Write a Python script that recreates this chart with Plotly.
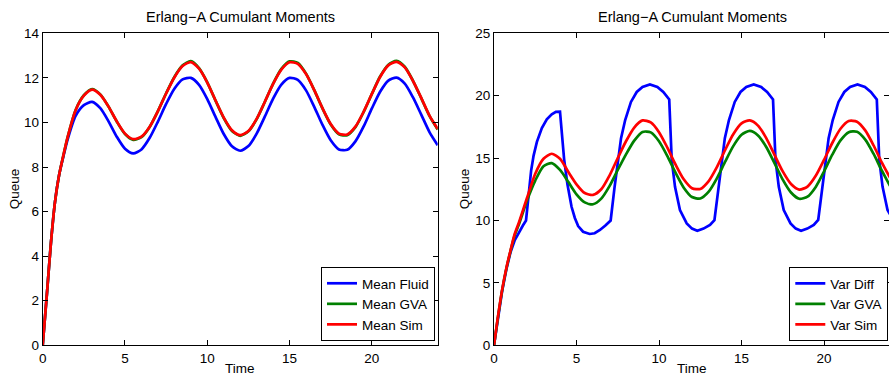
import plotly.graph_objects as go

# ---------------- data ----------------
mean_time = [0, 0.25, 0.5, 0.75, 1.0, 1.25, 1.5, 2.0, 2.5, 3.0, 3.5, 4.0, 4.5, 5.0, 5.5, 6.0,
             6.5, 7.0, 7.5, 8.0, 8.5, 9.0, 9.5, 10.0, 10.5, 11.0, 11.5, 12.0, 12.5, 13.0,
             13.5, 14.0, 14.5, 15.0, 15.5, 16.0, 16.5, 17.0, 17.5, 18.0, 18.5, 19.0, 19.5,
             20.0, 20.5, 21.0, 21.5, 22.0, 22.5, 23.0, 23.5, 24.0]
mean_fluid = [0, 2.25, 4.6, 6.45, 7.65, 8.45, 9.2, 10.3, 10.78, 10.92, 10.64, 10.05, 9.36, 8.82,
              8.61, 8.79, 9.31, 10.04, 10.83, 11.51, 11.93, 12.0, 11.69, 11.05, 10.25, 9.48,
              8.93, 8.73, 8.94, 9.5, 10.27, 11.07, 11.7, 12.0, 11.91, 11.44, 10.70, 9.89, 9.20,
              8.79, 8.77, 9.15, 9.82, 10.63, 11.38, 11.88, 12.01, 11.74, 11.12, 10.35, 9.57, 8.98]
mean_gva = [0, 2.25, 4.6, 6.45, 7.65, 8.5, 9.3, 10.56, 11.22, 11.5, 11.26, 10.71, 10.04, 9.48,
            9.22, 9.34, 9.8, 10.51, 11.31, 12.04, 12.56, 12.75, 12.44, 11.8, 10.98, 10.2, 9.62,
            9.4, 9.6, 10.15, 10.93, 11.74, 12.4, 12.74, 12.67, 12.19, 11.45, 10.63, 9.91, 9.47,
            9.43, 9.79, 10.47, 11.28, 12.06, 12.59, 12.76, 12.5, 11.87, 11.09, 10.29, 9.68]
mean_sim = [0, 2.25, 4.6, 6.45, 7.65, 8.5, 9.3, 10.55, 11.2, 11.47, 11.24, 10.71, 10.05, 9.5,
            9.25, 9.36, 9.81, 10.51, 11.30, 12.02, 12.53, 12.71, 12.41, 11.79, 10.99, 10.22,
            9.65, 9.43, 9.62, 10.16, 10.93, 11.73, 12.37, 12.70, 12.63, 12.17, 11.45, 10.64,
            9.93, 9.50, 9.46, 9.81, 10.48, 11.28, 12.04, 12.56, 12.72, 12.47, 11.86, 11.10,
            10.31, 9.71]

var_time = mean_time
var_gva = [0, 2.35, 4.45, 6.15, 7.55, 8.8, 9.65, 11.6, 13.2, 14.35, 14.6, 14.05, 13.1, 12.1,
           11.45, 11.3, 11.75, 12.75, 14.05, 15.3, 16.4, 17.1, 17.06, 16.35, 15.18, 13.83,
           12.63, 11.88, 11.76, 12.29, 13.36, 14.69, 15.96, 16.87, 17.18, 16.82, 15.89, 14.60,
           13.27, 12.24, 11.74, 11.91, 12.69, 13.92, 15.27, 16.42, 17.08, 17.11, 16.48, 15.35,
           14.01, 12.77]
var_sim = [0, 2.4, 4.5, 6.2, 7.6, 8.9, 9.8, 11.8, 13.75, 14.95, 15.35, 14.95, 13.9, 12.9, 12.2,
           12.05, 12.5, 13.6, 15.0, 16.35, 17.45, 18.02, 17.86, 17.08, 15.86, 14.49, 13.30,
           12.59, 12.53, 13.14, 14.26, 15.63, 16.91, 17.78, 18.02, 17.60, 16.60, 15.26, 13.93,
           12.92, 12.48, 12.72, 13.58, 14.85, 16.21, 17.35, 17.97, 17.92, 17.22, 16.03, 14.66,
           13.43]

var_diff_time = [0, 0.25, 0.5, 0.75, 1.0, 1.25, 1.5, 1.75, 1.94, 2.1, 2.25, 2.4, 2.6, 2.9, 3.2,
                 3.5, 3.75, 4.0, 4.12, 4.25, 4.45, 4.7, 4.9, 5.1, 5.4, 5.8, 6.1, 6.42, 6.75,
                 7.07, 7.3, 7.5, 7.7, 7.95, 8.3, 8.65, 9.0, 9.45, 9.9, 10.26, 10.62, 10.77,
                 10.97, 11.27, 11.68, 12.0, 12.32, 12.7, 13.09,
                 13.36, 13.59, 13.79, 13.99, 14.24, 14.59, 14.94, 15.29, 15.74, 16.19, 16.55,
                 16.91, 17.06, 17.26, 17.56, 17.97, 18.29, 18.61, 18.99, 19.38,
                 19.65, 19.88, 20.08, 20.28, 20.53, 20.88, 21.23, 21.58, 22.03, 22.48, 22.84,
                 23.2, 23.35, 23.55, 23.85, 24.0]
var_diff = [0, 2.35, 4.4, 6.1, 7.45, 8.4, 9.05, 9.6, 10.0, 12.2, 14.0, 15.2, 16.3, 17.4, 18.1,
            18.5, 18.7, 18.72, 16.8, 14.9, 12.9, 11.1, 10.2, 9.55, 9.1, 8.92, 8.98, 9.24, 9.6,
            10.0, 12.6, 14.7, 16.6, 18.05, 19.5, 20.3, 20.7, 20.9, 20.7, 20.3, 19.7, 14.85,
            12.7, 10.84, 9.77, 9.35, 9.18, 9.35, 9.64,
            10.02, 12.6, 14.7, 16.6, 18.05, 19.5, 20.3, 20.7, 20.9, 20.7, 20.3,
            19.7, 14.85, 12.7, 10.84, 9.77, 9.35, 9.18, 9.35, 9.64,
            10.05, 12.6, 14.7, 16.6, 18.05, 19.5, 20.3, 20.7, 20.9, 20.7, 20.3,
            19.7, 14.85, 12.7, 10.84, 10.5]

x_ticks = [0, 5, 10, 15, 20]
mean_y_ticks = [0, 2, 4, 6, 8, 10, 12, 14]
var_y_ticks = [0, 5, 10, 15, 20, 25]

BLUE, GREEN, RED = "#0000ff", "#008000", "#ff0000"
FONT = "Liberation Sans, Arial, Helvetica, sans-serif"
FS = 13.5
LW = 2.7

fig = go.Figure()

smooth = dict(shape="spline", smoothing=0.7)
fig.add_trace(go.Scatter(x=mean_time, y=mean_fluid, name="Mean Fluid", mode="lines",
                         line=dict(color=BLUE, width=LW, **smooth), xaxis="x", yaxis="y", legend="legend"))
fig.add_trace(go.Scatter(x=mean_time, y=mean_gva, name="Mean GVA", mode="lines",
                         line=dict(color=GREEN, width=LW, **smooth), xaxis="x", yaxis="y", legend="legend"))
fig.add_trace(go.Scatter(x=mean_time, y=mean_sim, name="Mean Sim", mode="lines",
                         line=dict(color=RED, width=LW, **smooth), xaxis="x", yaxis="y", legend="legend"))

fig.add_trace(go.Scatter(x=var_diff_time, y=var_diff, name="Var Diff", mode="lines",
                         line=dict(color=BLUE, width=LW), xaxis="x2", yaxis="y2", legend="legend2"))
fig.add_trace(go.Scatter(x=var_time, y=var_gva, name="Var GVA", mode="lines",
                         line=dict(color=GREEN, width=LW, **smooth), xaxis="x2", yaxis="y2", legend="legend2"))
fig.add_trace(go.Scatter(x=var_time, y=var_sim, name="Var Sim", mode="lines",
                         line=dict(color=RED, width=LW, **smooth), xaxis="x2", yaxis="y2", legend="legend2"))

W, H = 889, 378
ydom = [(H - 345.3) / H, (H - 33.3) / H]
axis_common = dict(showline=True, linecolor="black", linewidth=1, mirror="ticks",
                   ticks="inside", ticklen=5, tickcolor="black", tickwidth=1,
                   showgrid=False, zeroline=False, automargin=False,
                   tickfont=dict(family=FONT, size=FS, color="black"))

fig.update_layout(
    template="none",
    width=W, height=H,
    margin=dict(l=0, r=0, t=0, b=0, pad=0, autoexpand=False),
    paper_bgcolor="white", plot_bgcolor="white",
    font=dict(family=FONT, size=FS, color="black"),
    xaxis=dict(domain=[42.7 / W, 437.7 / W], range=[0, 24], tickvals=x_ticks, anchor="y", **axis_common),
    yaxis=dict(domain=ydom, range=[0, 14], tickvals=mean_y_ticks, anchor="x", **axis_common),
    xaxis2=dict(domain=[494 / W, 1.0], range=[0, 395 / 16.5], tickvals=x_ticks, anchor="y2", **axis_common),
    yaxis2=dict(domain=ydom, range=[0, 25], tickvals=var_y_ticks, anchor="x2", **axis_common),
    legend=dict(x=435 / W, y=(H - 341) / H, xanchor="right", yanchor="bottom",
                bgcolor="white", bordercolor="black", borderwidth=1,
                font=dict(family=FONT, size=FS, color="black"), tracegroupgap=0),
    legend2=dict(x=888.3 / W, y=(H - 341) / H, xanchor="right", yanchor="bottom",
                 bgcolor="white", bordercolor="black", borderwidth=1,
                 font=dict(family=FONT, size=FS, color="black"), tracegroupgap=0),
    showlegend=True,
)

ann = []
for cx in (240, 692):
    ann.append(dict(text="Erlang\u2212A Cumulant Moments", x=cx / W, y=(H - 17) / H, xref="paper", yref="paper",
                    showarrow=False, xanchor="center", yanchor="middle", font=dict(size=14.5)))
    ann.append(dict(text="Time", x=cx / W, y=0, xref="paper", yref="paper",
                    showarrow=False, xanchor="center", yanchor="bottom", font=dict(size=FS)))
for qx in (14, 464):
    ann.append(dict(text="Queue", x=qx / W, y=(H - 189.3) / H, xref="paper", yref="paper",
                    showarrow=False, xanchor="center", yanchor="middle", textangle=-90, font=dict(size=FS)))
fig.update_layout(annotations=ann)

fig.write_html("out.html", config={"displayModeBar": False},
               post_script="document.body.style.margin='0px';document.body.style.overflow='hidden';")
